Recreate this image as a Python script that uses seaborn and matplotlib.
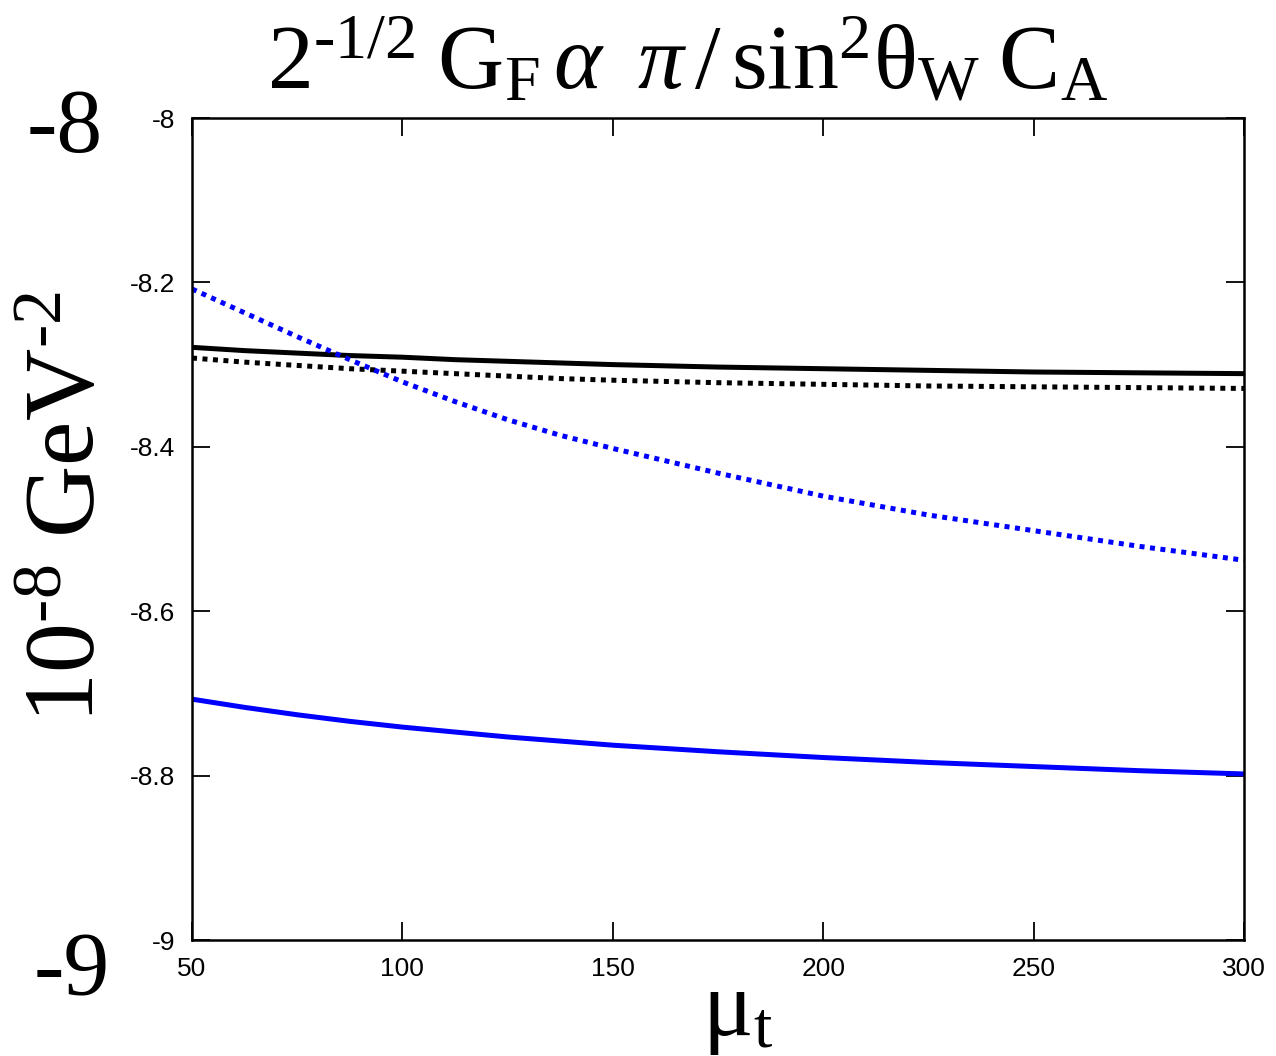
import matplotlib
matplotlib.use('Agg')
import matplotlib.pyplot as plt
import numpy as np
import pandas as pd
import seaborn as sns

# ── Data ──────────────────────────────────────────────────
mu_t = [50, 62.5, 75, 87.5, 100, 112.5, 125, 137.5, 150, 175, 200, 225, 250, 275, 300]

black_solid = [-8.279, -8.283, -8.286, -8.289, -8.291, -8.294, -8.296, -8.298,
               -8.300, -8.303, -8.305, -8.307, -8.309, -8.310, -8.311]
black_dotted = [-8.292, -8.297, -8.301, -8.305, -8.308, -8.311, -8.314, -8.317,
                -8.319, -8.322, -8.324, -8.326, -8.327, -8.328, -8.329]
blue_dotted = [-8.208, -8.237, -8.266, -8.294, -8.321, -8.345, -8.367, -8.386,
               -8.402, -8.432, -8.460, -8.483, -8.502, -8.521, -8.538]
blue_solid = [-8.707, -8.717, -8.726, -8.734, -8.741, -8.747, -8.753, -8.758,
              -8.763, -8.771, -8.778, -8.784, -8.789, -8.794, -8.798]

x_ticks = [50, 100, 150, 200, 250, 300]
y_ticks = [-9, -8.8, -8.6, -8.4, -8.2, -8]
y_tick_labels = ['-9', '-8.8', '-8.6', '-8.4', '-8.2', '-8']

# ── Style ─────────────────────────────────────────────────
sns.set_theme(style='ticks')
plt.rcParams['font.family'] = ['Liberation Sans', 'DejaVu Sans']
plt.rcParams['axes.unicode_minus'] = False
plt.rcParams['mathtext.fontset'] = 'custom'
plt.rcParams['mathtext.rm'] = 'Liberation Serif'
plt.rcParams['mathtext.it'] = 'Liberation Serif:italic'
plt.rcParams['mathtext.bf'] = 'Liberation Serif:bold'

fig = plt.figure(figsize=(12.76, 10.56), dpi=100)
ax = fig.add_axes([192/1276, 116/1056, 1052/1276, 822/1056])

df = pd.DataFrame({'mu': mu_t, 'bs': black_solid, 'bd': black_dotted,
                   'ud': blue_dotted, 'us': blue_solid})

dot = (0, (1, 1.1))
sns.lineplot(data=df, x='mu', y='bs', ax=ax, color='black', lw=3.6)
sns.lineplot(data=df, x='mu', y='bd', ax=ax, color='black', lw=3.6, linestyle=dot)
sns.lineplot(data=df, x='mu', y='ud', ax=ax, color='#0000ff', lw=3.6, linestyle=dot)
sns.lineplot(data=df, x='mu', y='us', ax=ax, color='#0000ff', lw=3.6)

ax.set_xlim(50, 300)
ax.set_ylim(-9, -8)
ax.set_xticks(x_ticks)
ax.set_xticklabels([str(t) for t in x_ticks])
ax.set_yticks(y_ticks)
ax.set_yticklabels(y_tick_labels)
ax.set_xlabel('')
ax.set_ylabel('')
ax.tick_params(direction='in', length=13, width=1.3, labelsize=19,
               top=True, right=True, colors='black')
ax.tick_params(axis='x', pad=12)
ax.tick_params(axis='y', pad=12)
for s in ax.spines.values():
    s.set_visible(True)
    s.set_linewidth(1.8)
    s.set_color('black')

# ── Big serif labels ──────────────────────────────────────
serif = ['Liberation Serif', 'DejaVu Serif']
fig.text(688/1276, 1 - 88/1056,
         r'$\mathregular{2^{\text{-}1/2}\;G_F\,}\alpha\;\;\pi\mathregular{\,/\,sin^2\theta_W\;C_A}$',
         ha='center', va='baseline', fontsize=66, family=serif, color='black')
fig.text(0.055, 0.52, r'$\mathregular{10^{\text{-}8}\ GeV^{\text{-}2}}$',
         rotation=90, ha='center', va='center', fontsize=72, family=serif, color='black')
fig.text(65/1276, 1 - 152/1056, '-8',
         ha='center', va='baseline', fontsize=66, family=serif, color='black')
fig.text(72/1276, 1 - 995/1056, '-9',
         ha='center', va='baseline', fontsize=66, family=serif, color='black')
fig.text(738/1276, 1 - 1035/1056, r'$\mathregular{\mu_t}$',
         ha='center', va='baseline', fontsize=68, family=serif, color='black')

plt.savefig('out.png', dpi=100)
